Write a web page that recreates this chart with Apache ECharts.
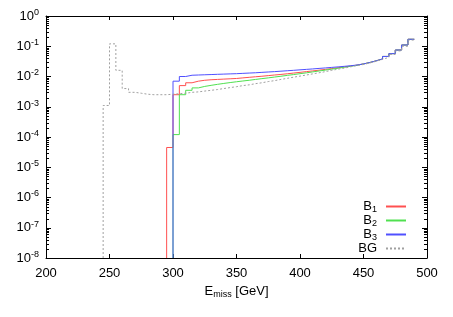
<!DOCTYPE html>
<html><head><meta charset="utf-8">
<script src="https://cdn.jsdelivr.net/npm/echarts@6/dist/echarts.min.js"></script>
<style>html,body{margin:0;padding:0;background:#fff}#c{width:453px;height:317px}</style>
</head><body><div id="c"></div>
<script>
// bin edges (GeV) and bin contents for each histogram
const edgesBG = [245,250,255,260,265,270,275,280,285,290,295,300,305,310,315,320,325,330,335,340,345,350,355,360,365,370,375,380,385,390,395,400,405,410,415,420,425,430,435,440,445,450,455,460,465,470,475,480,485,490];
const valsBG  = [1.1e-3,0.12,0.016,4e-3,3e-3,2.8e-3,2.6e-3,2.5e-3,2.5e-3,2.5e-3,2.6e-3,2.7e-3,2.8e-3,3.0e-3,3.1e-3,3.3e-3,3.5e-3,3.7e-3,4.0e-3,4.3e-3,4.6e-3,5.0e-3,5.3e-3,5.8e-3,6.2e-3,6.8e-3,7.3e-3,8.0e-3,8.7e-3,9.5e-3,1.03e-2,1.12e-2,1.22e-2,1.33e-2,1.45e-2,1.6e-2,1.75e-2,1.9e-2,2.1e-2,2.3e-2,2.5e-2,2.8e-2,3.2e-2,3.7e-2,4.3e-2,5.4e-2,7e-2,0.1,0.16];
const edgesB1 = [295,300,305,310,315,320,325,330,335,340,345,350,355,360,365,370,375,380,385,390,395,400,405,410,415,420,425,430,435,440,445,450,455,460,465,470,475,480,485,490];
const valsB1  = [4.5e-5,2.5e-3,5e-3,6.2e-3,7e-3,7.5e-3,7.8e-3,8.0e-3,8.2e-3,8.4e-3,8.6e-3,9.0e-3,9.4e-3,9.8e-3,1.02e-2,1.07e-2,1.12e-2,1.17e-2,1.23e-2,1.3e-2,1.37e-2,1.45e-2,1.53e-2,1.62e-2,1.72e-2,1.83e-2,1.95e-2,2.08e-2,2.22e-2,2.38e-2,2.6e-2,2.9e-2,3.3e-2,3.8e-2,4.6e-2,5.7e-2,7.5e-2,0.11,0.17];
const edgesB2 = [300,305,310,315,320,325,330,335,340,345,350,355,360,365,370,375,380,385,390,395,400,405,410,415,420,425,430,435,440,445,450,455,460,465,470,475,480,485,490];
const valsB2  = [1.2e-4,2.5e-3,3.5e-3,4.2e-3,4.7e-3,5.1e-3,5.5e-3,5.9e-3,6.3e-3,6.7e-3,7.1e-3,7.5e-3,8.0e-3,8.5e-3,9.0e-3,9.6e-3,1.02e-2,1.09e-2,1.16e-2,1.24e-2,1.32e-2,1.42e-2,1.52e-2,1.63e-2,1.75e-2,1.88e-2,2.02e-2,2.18e-2,2.36e-2,2.6e-2,2.9e-2,3.3e-2,3.8e-2,4.6e-2,5.7e-2,7.5e-2,0.11,0.17];
const edgesB3 = [300,305,310,315,320,325,330,335,340,345,350,355,360,365,370,375,380,385,390,395,400,405,410,415,420,425,430,435,440,445,450,455,460,465,470,475,480,485,490];
const valsB3  = [7e-3,1.0e-2,1.1e-2,1.12e-2,1.14e-2,1.16e-2,1.18e-2,1.2e-2,1.22e-2,1.24e-2,1.27e-2,1.3e-2,1.33e-2,1.37e-2,1.41e-2,1.45e-2,1.5e-2,1.55e-2,1.6e-2,1.66e-2,1.72e-2,1.78e-2,1.85e-2,1.92e-2,2.0e-2,2.08e-2,2.17e-2,2.27e-2,2.4e-2,2.6e-2,2.9e-2,3.3e-2,3.8e-2,4.6e-2,5.7e-2,7.5e-2,0.11,0.17];
const xTicks = [200,250,300,350,400,450,500];
const yDecades = [1e-8,1e-7,1e-6,1e-5,1e-4,1e-3,1e-2,1e-1,1];
const minorFactors = [2,3,4,5,6,7,8,9];

const YMIN = 1e-8, YMAX = 1;
function steps(edges, vals){
  const d = [[edges[0], YMIN]];
  for (let i=0;i<vals.length;i++) d.push([edges[i], vals[i]]);
  d.push([edges[edges.length-1], vals[vals.length-1]]);
  return d;
}
const minorTicks = [];
yDecades.slice(0,-1).forEach(d => minorFactors.forEach(f => minorTicks.push([xTicks[0], d*f])));

const FONT = 'Liberation Sans, Arial, Helvetica, sans-serif';
const chart = echarts.init(document.getElementById('c'), null, {renderer:'canvas'});
function lineSeries(name, edges, vals, color, type){
  return {name, type:'line', step:'end', symbol:'none', showSymbol:false, data: steps(edges, vals),
    lineStyle:{color, width:1, type: type||'solid'}, itemStyle:{color}, animation:false, clip:true, z:3};
}
chart.setOption({
  animation:false,
  backgroundColor:'#fff',
  grid:{left:46, right:26, top:16, bottom:59},
  textStyle:{fontFamily:FONT},
  legend:{
    orient:'vertical', right:41, top:195, align:'right', itemWidth:20, itemHeight:14, itemGap:0,
    data:['B1','B2','B3','BG'],
    itemStyle:{color:'rgba(0,0,0,0)', opacity:0, borderWidth:0},
    formatter: n => n[0]==='B' && n.length===2 && n[1]!=='G' ? '{t|B}{s|'+n[1]+'}' : '{t|'+n+'}',
    textStyle:{fontFamily:FONT, fontSize:13, color:'#000', padding:[0,4,0,0],
      rich:{t:{fontSize:13, fontFamily:FONT, color:'#000'}, s:{fontSize:9, fontFamily:FONT, color:'#000', padding:[6,0,0,0]}}},
    selectedMode:false
  },
  xAxis:[{
    type:'value', min:200, max:500, interval:50, position:'bottom',
    name:'E{s|miss} [GeV]', nameLocation:'middle', nameGap:26,
    nameTextStyle:{fontSize:13, color:'#000', fontFamily:FONT, rich:{s:{fontSize:9, fontFamily:FONT, color:'#000', padding:[6,0,0,0]}}},
    axisLine:{lineStyle:{color:'#000', width:1}}, axisTick:{inside:true, length:4, lineStyle:{color:'#000'}},
    axisLabel:{fontSize:13, color:'#000', margin:9, fontFamily:FONT}, splitLine:{show:false}
  },{
    type:'value', min:200, max:500, interval:50, position:'top',
    axisLine:{lineStyle:{color:'#000', width:1}}, axisTick:{inside:true, length:4, lineStyle:{color:'#000'}},
    axisLabel:{show:false}, splitLine:{show:false}
  }],
  yAxis:[{
    type:'log', logBase:10, min:YMIN, max:YMAX, interval:1, position:'left',
    axisLine:{show:true, lineStyle:{color:'#000', width:1}}, axisTick:{show:true, inside:true, length:5, lineStyle:{color:'#000'}},
    axisLabel:{color:'#000', margin:7, fontFamily:FONT,
      formatter: v => '{b|10}{s|' + Math.round(Math.log10(v)) + '}',
      rich:{b:{fontSize:13, fontFamily:FONT, color:'#000'}, s:{fontSize:9, fontFamily:FONT, color:'#000', padding:[0,0,7,0]}}},
    splitLine:{show:false}
  },{
    type:'log', logBase:10, min:YMIN, max:YMAX, interval:1, position:'right',
    axisLine:{show:true, lineStyle:{color:'#000', width:1}}, axisTick:{show:true, inside:true, length:5, lineStyle:{color:'#000'}},
    axisLabel:{show:false}, splitLine:{show:false}
  }],
  series:[
    lineSeries('B1', edgesB1, valsB1, '#ff5050'),
    lineSeries('B2', edgesB2, valsB2, '#50e050'),
    lineSeries('B3', edgesB3, valsB3, '#5050ff'),
    lineSeries('BG', edgesBG, valsBG, '#a0a0a0', [2,2]),
    {type:'custom', name:'minor', data:minorTicks, silent:true, z:4, clip:false,
      renderItem:(params, api) => {
        const p = api.coord([api.value(0), api.value(1)]);
        const pr = api.coord([xTicks[xTicks.length-1], api.value(1)]);
        const st = {stroke:'#000', lineWidth:1};
        return {type:'group', children:[
          {type:'line', shape:{x1:p[0], y1:Math.round(p[1])+0.5, x2:p[0]+3, y2:Math.round(p[1])+0.5}, style:st},
          {type:'line', shape:{x1:pr[0], y1:Math.round(pr[1])+0.5, x2:pr[0]-3, y2:Math.round(pr[1])+0.5}, style:st}
        ]};
      }}
  ]
});
</script></body></html>
